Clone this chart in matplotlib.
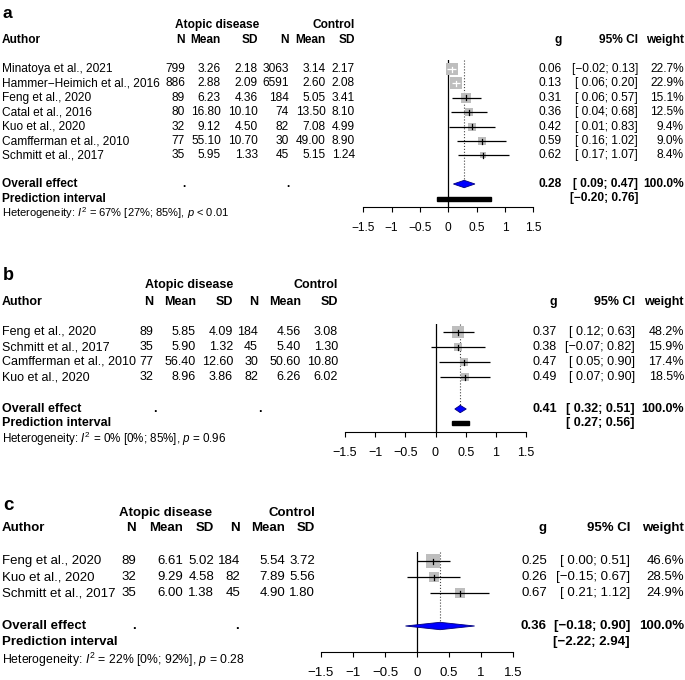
import matplotlib
matplotlib.use('Agg')
import matplotlib.pyplot as plt
from matplotlib.patches import Polygon, Rectangle
import math

plt.rcParams['font.family'] = ['Liberation Sans', 'DejaVu Sans']
plt.rcParams['mathtext.fontset'] = 'custom'
plt.rcParams['mathtext.rm'] = 'Liberation Sans'
plt.rcParams['mathtext.it'] = 'Liberation Sans:italic'
plt.rcParams['axes.unicode_minus'] = True

# ---------------- data ----------------
tick_vals = [-1.5, -1, -0.5, 0, 0.5, 1, 1.5]
tick_labels = ['\u22121.5', '\u22121', '\u22120.5', '0', '0.5', '1', '1.5']

# panel a
authors_a = ['Minatoya et al., 2021', 'Hammer\u2212Heimich et al., 2016', 'Feng et al., 2020',
             'Catal et al., 2016', 'Kuo et al., 2020', 'Camfferman et al., 2010', 'Schmitt et al., 2017']
n_e_a = [799, 886, 89, 80, 32, 77, 35]
mean_e_a = [3.26, 2.88, 6.23, 16.80, 9.12, 55.10, 5.95]
sd_e_a = [2.18, 2.09, 4.36, 10.10, 4.50, 10.70, 1.33]
n_c_a = [3063, 6591, 184, 74, 82, 30, 45]
mean_c_a = [3.14, 2.60, 5.05, 13.50, 7.08, 49.00, 5.15]
sd_c_a = [2.17, 2.08, 3.41, 8.10, 4.99, 8.90, 1.24]
g_a = [0.06, 0.13, 0.31, 0.36, 0.42, 0.59, 0.62]
lo_a = [-0.02, 0.06, 0.06, 0.04, 0.01, 0.16, 0.17]
hi_a = [0.13, 0.20, 0.57, 0.68, 0.83, 1.02, 1.07]
w_a = [22.7, 22.9, 15.1, 12.5, 9.4, 9.0, 8.4]
overall_a = [0.28, 0.09, 0.47]
pred_a = [-0.20, 0.76]
het_a = ['67%', '[27%; 85%]', '< 0.01']

# panel b
authors_b = ['Feng et al., 2020', 'Schmitt et al., 2017', 'Camfferman et al., 2010', 'Kuo et al., 2020']
n_e_b = [89, 35, 77, 32]
mean_e_b = [5.85, 5.90, 56.40, 8.96]
sd_e_b = [4.09, 1.32, 12.60, 3.86]
n_c_b = [184, 45, 30, 82]
mean_c_b = [4.56, 5.40, 50.60, 6.26]
sd_c_b = [3.08, 1.30, 10.80, 6.02]
g_b = [0.37, 0.38, 0.47, 0.49]
lo_b = [0.12, -0.07, 0.05, 0.07]
hi_b = [0.63, 0.82, 0.90, 0.90]
w_b = [48.2, 15.9, 17.4, 18.5]
overall_b = [0.41, 0.32, 0.51]
pred_b = [0.27, 0.56]
het_b = ['0%', '[0%; 85%]', '= 0.96']

# panel c
authors_c = ['Feng et al., 2020', 'Kuo et al., 2020', 'Schmitt et al., 2017']
n_e_c = [89, 32, 35]
mean_e_c = [6.61, 9.29, 6.00]
sd_e_c = [5.02, 4.58, 1.38]
n_c_c = [184, 82, 45]
mean_c_c = [5.54, 7.89, 4.90]
sd_c_c = [3.72, 5.56, 1.80]
g_c = [0.25, 0.26, 0.67]
lo_c = [0.00, -0.15, 0.21]
hi_c = [0.51, 0.67, 1.12]
w_c = [46.6, 28.5, 24.9]
overall_c = [0.36, -0.18, 0.90]
pred_c = [-2.22, 2.94]
het_c = ['22%', '[0%; 92%]', '= 0.28']

# ---------------- layout (pixels) ----------------
W, H = 685, 680
layout = {
    'a': dict(fs=8.6, label_y=13, hdr1_y=25, hdr2_y=40, row_y0=69, dy=14.4, ov_y=184, pr_y=198.5, het_y=213,
              ne=185, me=221, se=258, nc=289, mc=326, sc=355, atop=217, dot1=186, dot2=290,
              gx=562, cix=638, wx=684, xm=363.3, xp=533.3, top=60, axis_y=207, k=2.35),
    'b': dict(fs=9.0, label_y=275, hdr1_y=285, hdr2_y=302, row_y0=332, dy=15.0, ov_y=409, pr_y=423, het_y=439,
              ne=153, me=196, se=233, nc=258, mc=301, sc=338, atop=189, dot1=157, dot2=262,
              gx=557, cix=635, wx=684, xm=345, xp=526, top=324, axis_y=432, k=1.8),
    'c': dict(fs=9.5, label_y=505, hdr1_y=513, hdr2_y=528, row_y0=561, dy=16.0, ov_y=626, pr_y=642, het_y=660,
              ne=136, me=183, se=214, nc=240, mc=285, sc=315, atop=166, dot1=136, dot2=239,
              gx=547, cix=630, wx=684, xm=321, xp=513, top=552, axis_y=652, k=1.97),
}

fig = plt.figure(figsize=(6.85, 6.8), dpi=100)
base = fig.add_axes([0, 0, 1, 1])
base.set_xlim(0, W)
base.set_ylim(H, 0)
base.axis('off')


def T(x, y, s, ha='left', bold=False, size=8.4, **kw):
    base.text(x, y, s, ha=ha, va='center', fontsize=size,
              fontweight='bold' if bold else 'normal', **kw)


def num(v):
    return f'{v:.2f}'.replace('-', '\u2212')


def ci(lo, hi):
    s_lo = num(lo) if lo < 0 else ' ' + num(lo)
    return '[' + s_lo + '; ' + num(hi) + ']'


def panel(label, authors, ne, me, se, nc, mc, sc, g, lo, hi, w, overall, pred, het):
    p = layout[label]
    fs = p['fs']
    T(3, p['label_y'], label, bold=True, size=fs + 4)
    T(p['atop'], p['hdr1_y'], 'Atopic disease', ha='center', bold=True, size=fs)
    T(p['sc'], p['hdr1_y'], 'Control', ha='right', bold=True, size=fs)
    T(2, p['hdr2_y'], 'Author', bold=True, size=fs)
    for key, lab in [('ne', 'N'), ('me', 'Mean'), ('se', 'SD'), ('nc', 'N'), ('mc', 'Mean'), ('sc', 'SD')]:
        T(p[key], p['hdr2_y'], lab, ha='right', bold=True, size=fs)
    T(p['gx'], p['hdr2_y'], 'g', ha='right', bold=True, size=fs)
    T(p['cix'], p['hdr2_y'], '95% CI', ha='right', bold=True, size=fs)
    T(p['wx'], p['hdr2_y'], 'weight', ha='right', bold=True, size=fs)

    ys = [p['row_y0'] + i * p['dy'] for i in range(len(authors))]
    for i, y in enumerate(ys):
        T(2, y, authors[i], size=fs)
        T(p['ne'], y, str(ne[i]), ha='right', size=fs)
        T(p['me'], y, num(me[i]), ha='right', size=fs)
        T(p['se'], y, num(se[i]), ha='right', size=fs)
        T(p['nc'], y, str(nc[i]), ha='right', size=fs)
        T(p['mc'], y, num(mc[i]), ha='right', size=fs)
        T(p['sc'], y, num(sc[i]), ha='right', size=fs)
        T(p['gx'], y, num(g[i]), ha='right', size=fs)
        T(p['cix'], y, ci(lo[i], hi[i]), ha='right', size=fs)
        T(p['wx'], y, f'{w[i]:.1f}%', ha='right', size=fs)

    T(2, p['ov_y'], 'Overall effect', bold=True, size=fs)
    T(p['dot1'], p['ov_y'], '.', ha='right', bold=True, size=fs)
    T(p['dot2'], p['ov_y'], '.', ha='right', bold=True, size=fs)
    T(p['gx'], p['ov_y'], num(overall[0]), ha='right', bold=True, size=fs)
    T(p['cix'], p['ov_y'], ci(overall[1], overall[2]), ha='right', bold=True, size=fs)
    T(p['wx'], p['ov_y'], '100.0%', ha='right', bold=True, size=fs)
    T(2, p['pr_y'], 'Prediction interval', bold=True, size=fs)
    T(p['cix'], p['pr_y'], ci(pred[0], pred[1]), ha='right', bold=True, size=fs)
    T(2, p['het_y'], 'Heterogeneity: $I^2$ = ' + het[0] + ' ' + het[1] + ', $p$ ' + het[2],
      size=fs * 0.93)

    # forest axes
    ax = fig.add_axes([p['xm'] / W, 1 - p['axis_y'] / H, (p['xp'] - p['xm']) / W, (p['axis_y'] - p['top']) / H])
    ax.set_xlim(-1.5, 1.5)
    ax.set_ylim(p['axis_y'], p['top'])
    ax.patch.set_alpha(0)
    for s in ['top', 'left', 'right']:
        ax.spines[s].set_visible(False)
    ax.spines['bottom'].set_linewidth(0.8)
    ax.set_yticks([])
    ax.set_xticks(tick_vals)
    ax.set_xticklabels(tick_labels)
    ax.tick_params(axis='x', length=3.8, width=0.8, pad=7.0, labelsize=fs)
    ax.axvline(0, color='black', lw=0.9, zorder=1)
    scale = (p['xp'] - p['xm']) / 3.0
    # dotted line at overall estimate
    ax.plot([overall[0], overall[0]], [p['top'], p['ov_y'] - 3.7], ls=':', color='#444444', lw=0.8, zorder=1)
    for i, y in enumerate(ys):
        side = p['k'] * math.sqrt(w[i])
        ax.scatter([g[i]], [y], marker='s', s=(side * 0.72) ** 2, color='#bebebe', linewidths=0, zorder=2)
        half = side / 2 / scale
        inside = lo[i] > g[i] - half and hi[i] < g[i] + half
        col = 'white' if inside else 'black'
        ax.plot([lo[i], hi[i]], [y, y], color=col, lw=0.9, zorder=3, solid_capstyle='butt')
        ax.plot([g[i], g[i]], [y - 2.5, y + 2.5], color=col, lw=0.9, zorder=3)
    dh = 3.7
    ax.add_patch(Polygon([[overall[1], p['ov_y']], [overall[0], p['ov_y'] - dh],
                          [overall[2], p['ov_y']], [overall[0], p['ov_y'] + dh]],
                         closed=True, facecolor='#0000ff', edgecolor='#00007a', lw=0.6, zorder=4))
    if pred[0] >= -1.5 and pred[1] <= 1.5:
        ax.add_patch(Rectangle((pred[0], p['pr_y'] - 2), pred[1] - pred[0], 4, color='black', zorder=4))


panel('a', authors_a, n_e_a, mean_e_a, sd_e_a, n_c_a, mean_c_a, sd_c_a, g_a, lo_a, hi_a, w_a, overall_a, pred_a, het_a)
panel('b', authors_b, n_e_b, mean_e_b, sd_e_b, n_c_b, mean_c_b, sd_c_b, g_b, lo_b, hi_b, w_b, overall_b, pred_b, het_b)
panel('c', authors_c, n_e_c, mean_e_c, sd_e_c, n_c_c, mean_c_c, sd_c_c, g_c, lo_c, hi_c, w_c, overall_c, pred_c, het_c)

fig.savefig('out.png', dpi=100)
